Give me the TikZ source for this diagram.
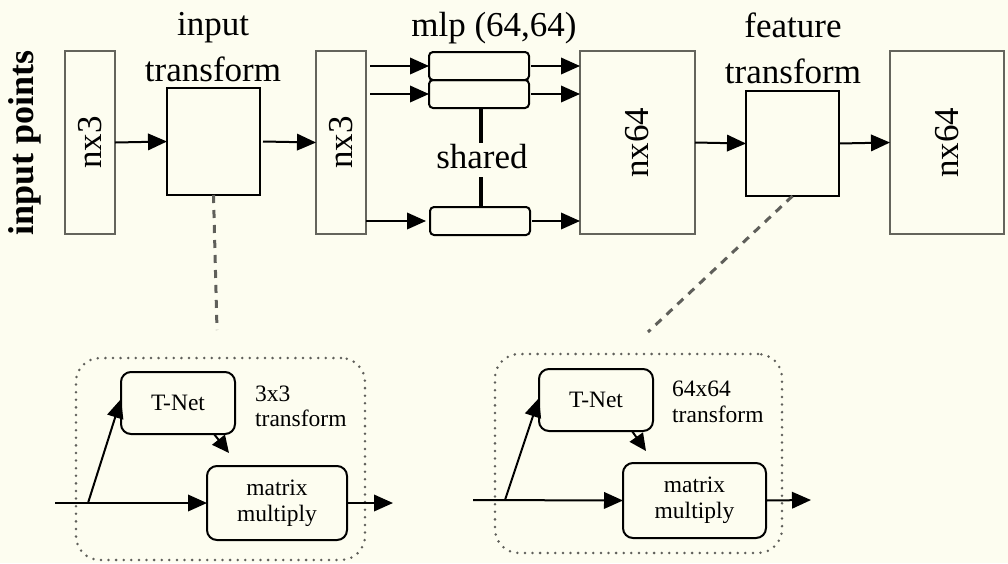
\documentclass[tikz,border=0pt]{standalone}
\usepackage{fontspec}
\setmainfont{Liberation Serif}
\usetikzlibrary{arrows.meta}

\definecolor{paper}{RGB}{253,253,240}
\definecolor{framegray}{RGB}{100,100,92}
\definecolor{dashgray}{RGB}{95,95,90}

\newcommand{\bigfont}{\fontsize{35}{46}\selectfont}
\newcommand{\smallfont}{\fontsize{23.5}{26}\selectfont}

\tikzset{
  arr/.style={line width=2pt, -{Triangle[length=19pt,width=16.5pt]}},
  smallarr/.style={line width=2pt, -{Triangle[length=17pt,width=16pt]}},
  tensor/.style={draw=framegray, line width=2pt, inner sep=0pt, outer sep=0pt, font=\bigfont},
  tbox/.style={draw=black, line width=2pt, inner sep=0pt, outer sep=0pt},
  mlpbox/.style={draw=black, line width=2pt, rounded corners=4pt, inner sep=0pt, outer sep=0pt,
                 minimum width=100pt, minimum height=28pt},
  rbox/.style={draw=black, line width=2pt, rounded corners=10pt, inner sep=0pt, outer sep=0pt,
               align=center, font=\smallfont},
  dotframe/.style={draw=dashgray, line width=2.8pt, dash pattern=on 0pt off 7.6pt, line cap=round,
                   rounded corners=24pt, inner sep=0pt},
  guide/.style={draw=dashgray, line width=3pt, dash pattern=on 8pt off 7pt},
  lbl/.style={font=\bigfont, align=center, inner sep=0pt},
}

\begin{document}
\begin{tikzpicture}[x=1pt, y=-1pt]
  \fill[paper] (0,0) rectangle (1008,563);
  \useasboundingbox (0,0) rectangle (1008,563);

  % side label
  \node[rotate=90, anchor=base, inner sep=0pt, font=\fontsize{36}{40}\selectfont\bfseries] (inpts) at (33,143) {input points};

  % main pipeline
  \node[tensor, minimum width=50pt, minimum height=183pt] (nxa) at (90,142.5) {\rotatebox{90}{nx3}};
  \node[tbox, minimum width=93pt, minimum height=107pt] (itf) at (213.5,141.5) {};
  \node[tensor, minimum width=50pt, minimum height=183pt] (nxb) at (341,142.5) {\rotatebox{90}{nx3}};
  \node[mlpbox] (m1) at (479,66) {};
  \node[mlpbox] (m2) at (479,94) {};
  \node[mlpbox] (m3) at (480,221) {};
  \node[tensor, minimum width=115pt, minimum height=183pt] (nxc) at (637.5,142.5) {\rotatebox{90}{nx64}};
  \node[tbox, minimum width=93pt, minimum height=105pt] (ftf) at (792.5,143.5) {};
  \node[tensor, minimum width=114pt, minimum height=183pt] (nxd) at (947,142.5) {\rotatebox{90}{nx64}};

  % titles
  \node[lbl, anchor=base] (itft) at (213,35) {input};
  \node[lbl, anchor=base] (itfb) at (213,81) {transform};
  \node[lbl, anchor=base] (mlpt) at (494,36) {mlp (64,64)};
  \node[lbl, anchor=base] (ftft) at (793,37) {feature};
  \node[lbl, anchor=base] (ftfb) at (793,83) {transform};
  \node[lbl, anchor=base, text height=24pt, text depth=8pt, inner ysep=1pt] (shd) at (482,168) {shared};

  % main arrows
  \draw[arr] (nxa.east) -- (itf.west);
  \draw[arr] ([xshift=3pt]itf.east) -- (nxb.west);
  \draw[arr] ([xshift=4pt]nxb.east |- m1.west) -- (m1.west);
  \draw[arr] ([xshift=4pt]nxb.east |- m2.west) -- (m2.west);
  \draw[arr] (nxb.east |- m3.west) -- ([xshift=-4pt]m3.west);
  \draw[arr] ([xshift=2pt]m1.east) -- (nxc.west |- m1.east);
  \draw[arr] ([xshift=2pt]m2.east) -- (nxc.west |- m2.east);
  \draw[arr] ([xshift=2pt]m3.east) -- (nxc.west |- m3.east);
  \draw[arr] (nxc.east) -- (ftf.west);
  \draw[arr] (ftf.east) -- (nxd.west);

  % shared weights
  \draw[line width=4pt] ([xshift=2pt]m2.south) -- ([xshift=-1pt]shd.north);
  \draw[line width=4pt] ([xshift=-1pt]shd.south) -- ([xshift=1pt]m3.north);

  % expansion guides
  \coordinate (g1) at (217,330);
  \coordinate (g2) at (648,332);
  \draw[guide] (itf.south) -- (g1);
  \draw[guide] (ftf.south) -- (g2);

  % input transform detail
  \node[dotframe, minimum width=289pt, minimum height=202pt] (fr1) at (220.5,459) {};
  \node[rbox, minimum width=114pt, minimum height=62pt] (tn1) at (178,403) {T-Net};
  \node[rbox, minimum width=140pt, minimum height=74pt] (mm1) at (277,503) {matrix\\multiply};
  \node[anchor=base west, inner sep=0pt, font=\smallfont] (tt1a) at (255,401) {3x3};
  \node[anchor=base west, inner sep=0pt, font=\smallfont] (tt1b) at (255,426) {transform};
  \coordinate (in1) at (55,503);
  \coordinate (j1) at (88,503);
  \coordinate (out1) at (393,503);
  \coordinate (t1) at (229,453);
  \draw[arr] (in1) -- (mm1.west);
  \draw[arr] (j1) -- ([yshift=4pt]tn1.west);
  \draw[arr] (mm1.east) -- (out1);
  \draw[smallarr] ([xshift=36pt]tn1.south) -- (t1);

  % feature transform detail
  \node[dotframe, minimum width=287pt, minimum height=199pt] (fr2) at (638.5,453.5) {};
  \node[rbox, minimum width=114pt, minimum height=62pt] (tn2) at (596,400) {T-Net};
  \node[rbox, minimum width=143pt, minimum height=75pt] (mm2) at (694.5,500.5) {matrix\\multiply};
  \node[anchor=base west, inner sep=0pt, font=\smallfont] (tt2a) at (672,396) {64x64};
  \node[anchor=base west, inner sep=0pt, font=\smallfont] (tt2b) at (672,422) {transform};
  \coordinate (in2) at (473,500);
  \coordinate (j2) at (505,500);
  \coordinate (out2) at (811,500);
  \coordinate (t2) at (646,451);
  \draw[arr] (in2) -- (mm2.west);
  \draw[arr] (j2) -- ([yshift=2pt]tn2.west);
  \draw[arr] (mm2.east) -- (out2);
  \draw[smallarr] ([xshift=36pt]tn2.south) -- (t2);
\end{tikzpicture}
\end{document}
